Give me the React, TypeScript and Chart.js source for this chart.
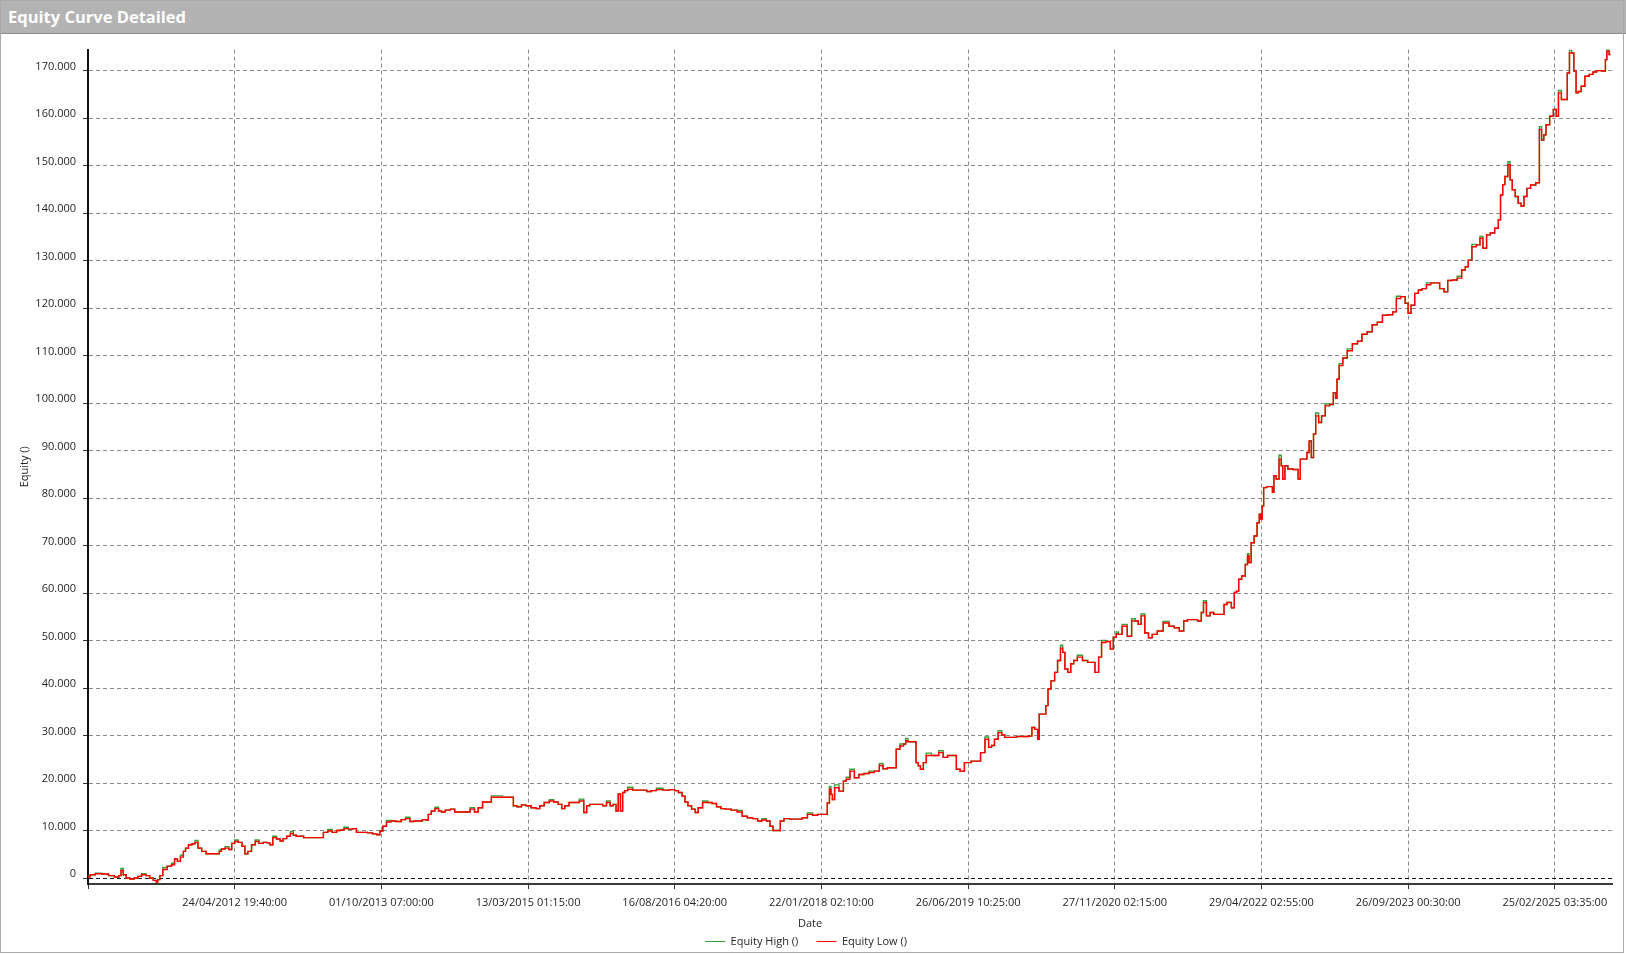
import { useEffect, useRef } from 'react';
import { Chart, registerables } from 'chart.js';

Chart.register(...registerables);

const chartTitle = 'Equity Curve Detailed';
const xAxisTitle = 'Date';
const yAxisTitle = 'Equity ()';
const seriesNames = ['Equity High ()', 'Equity Low ()'];
const seriesColors = ['#3a9d3a', '#ff0000'];

const xTickLabels = [
  '',
  '24/04/2012 19:40:00',
  '01/10/2013 07:00:00',
  '13/03/2015 01:15:00',
  '16/08/2016 04:20:00',
  '22/01/2018 02:10:00',
  '26/06/2019 10:25:00',
  '27/11/2020 02:15:00',
  '29/04/2022 02:55:00',
  '26/09/2023 00:30:00',
  '25/02/2025 03:35:00',
];
const xTickStep = 100;
const xMin = 0;
const xMax = 1039;
const yMin = -1263;
const yMax = 174420;
const yTickValues = [
  0, 10000, 20000, 30000, 40000, 50000, 60000, 70000, 80000, 90000,
  100000, 110000, 120000, 130000, 140000, 150000, 160000, 170000,
];
const VALUE_UNIT = 1000; // values below are in thousands

// bar number of each sampled point
const barIndex = [
  0, 3, 7, 12, 16, 20, 22, 23, 25, 27, 30, 33, 35, 38, 41, 43, 46, 47, 48, 50,
  52, 56, 58, 60, 62, 64, 66, 67, 70, 72, 74, 76, 79, 82, 85, 89, 90, 92, 95, 97,
  99, 101, 104, 106, 108, 110, 113, 115, 118, 121, 123, 125, 127, 130, 132, 134, 137, 139, 141, 143,
  146, 148, 155, 159, 162, 165, 168, 171, 173, 176, 179, 182, 184, 189, 192, 196, 198, 200, 202, 205,
  208, 212, 215, 218, 221, 223, 226, 230,
  231, 233, 235, 238, 240, 242, 245, 249, 251, 256, 259, 262, 265, 267, 271, 274, 276, 289, 291, 294,
  297, 300, 304, 307, 309, 313, 316, 319, 322, 324, 326, 330, 333, 337, 339, 341, 343, 347, 350, 352,
  355, 357, 359, 361, 362, 364, 365, 367, 369, 374, 379, 383, 385, 390, 394, 399, 401, 404, 406, 408,
  410, 413, 415, 417, 421, 424, 427, 430, 433, 436, 441, 444, 448, 451, 455, 458, 461, 464, 466, 468,
  471, 473, 476, 481, 485, 489, 492, 496, 499,
  500, 503, 505, 506, 507, 508, 510, 514, 516, 518, 521, 524, 527, 531, 534, 538, 541, 543, 547, 550,
  552, 555, 557, 558, 560, 564, 565, 567, 568, 571, 572, 578, 582, 584, 588, 591, 593, 596, 599, 601,
  603, 607, 610, 613, 615, 617, 619, 622, 624, 626, 631, 635, 640, 643, 644, 647, 648, 649, 652, 654,
  655, 658, 660, 662, 664, 665, 667, 669, 671, 673, 676, 680, 683, 685, 688, 690, 692, 696, 698, 700,
  702,
  703, 707, 710, 713, 715, 717, 719, 722, 724, 727, 731, 735, 739, 742, 746, 748, 751, 755, 758, 760,
  761, 764, 766, 769, 774, 775, 778, 781, 782, 784, 785, 788, 790, 791, 792, 794, 796, 798, 799, 800,
  801, 802, 805, 807, 808, 809, 811, 813, 814, 815, 817, 819, 824, 826, 827, 830, 832, 833, 835, 836,
  838, 840, 842, 845, 848, 850, 851, 852, 854,
  857, 860, 864, 867, 870, 874, 877, 881, 884, 888, 891, 893, 897, 899, 901, 903, 906, 908, 911, 914,
  917, 920, 923, 926, 928, 932, 935, 938, 940, 942, 945, 948, 950, 952, 955, 957, 961, 962, 964, 965,
  967, 969, 970, 972, 974, 976, 978, 980, 982, 985, 989, 990, 992, 993, 995, 998, 1000, 1002, 1003, 1006,
  1008, 1009, 1011, 1012, 1014, 1015, 1017, 1019, 1022, 1025, 1027, 1030, 1034, 1035, 1036, 1038,
];

// Equity Low (thousands)
const equityLow = [
  0.2, 0.7, 0.9, 0.85, 0.5, 0.2, 0.5, 1.6, 0.7, 0.0, -0.2, 0.0, 0.35, 0.7, 0.5, 0.0, -0.5, -0.85, -0.35, 0.5,
  1.8, 2.5, 2.8, 4.0, 3.5, 4.4, 5.6, 6.3, 7.0, 7.2, 7.5, 6.3, 5.6, 5.1, 5.1, 5.1, 5.6, 6.1, 6.3, 6.0,
  7.3, 7.7, 7.5, 6.7, 5.1, 5.6, 7.0, 7.7, 7.3, 7.5, 7.4, 7.0, 8.5, 8.2, 7.8, 8.3, 8.8, 9.4, 9.0, 8.8,
  8.8, 8.5, 8.5, 8.5, 9.6, 9.9, 9.6, 10.0, 10.1, 10.4, 10.3, 10.4, 9.6, 9.6, 9.5, 9.3, 9.1, 9.9, 10.9, 11.8,
  12.0, 11.9, 12.3, 12.5, 11.9, 12.0, 12.0, 12.3,
  12.2, 13.4, 14.1, 14.6, 14.1, 13.9, 14.3, 14.5, 13.9, 13.9, 13.9, 14.5, 13.9, 14.8, 16.0, 16.0, 17.0, 17.0, 15.2, 15.0,
  15.4, 15.2, 14.8, 14.6, 15.2, 15.9, 16.2, 16.0, 15.5, 14.6, 15.2, 15.9, 15.9, 16.2, 13.8, 15.2, 15.5, 15.5, 15.5, 15.2,
  15.9, 15.2, 15.5, 14.1, 17.7, 14.1, 18.0, 18.4, 18.7, 18.5, 18.5, 18.2, 18.4, 18.6, 18.5, 18.6, 18.4, 18.0, 17.2, 16.0,
  15.2, 14.5, 13.8, 14.8, 15.9, 15.9, 15.7, 15.0, 14.6, 14.5, 14.3, 13.9, 13.0, 12.7, 12.5, 12.0, 12.2, 12.0, 10.9, 10.0,
  10.0, 12.0, 12.5, 12.4, 12.4, 12.7, 13.4, 13.2, 13.4,
  13.4, 13.4, 15.8, 18.7, 17.6, 16.5, 19.0, 18.3, 20.4, 20.8, 22.5, 21.1, 21.8, 22.0, 22.2, 22.5, 23.7, 23.0, 23.2, 23.2,
  27.1, 27.8, 28.2, 28.9, 28.7, 28.7, 24.3, 23.6, 22.9, 24.3, 25.8, 25.8, 26.4, 25.4, 25.8, 25.8, 22.9, 22.5, 24.3, 24.3,
  24.6, 24.6, 26.4, 29.2, 27.5, 27.9, 29.2, 30.6, 30.1, 29.6, 29.6, 29.8, 29.8, 29.9, 31.7, 31.3, 29.2, 34.5, 34.5, 36.3,
  39.8, 41.5, 43.3, 45.8, 48.4, 47.5, 44.0, 43.3, 45.1, 45.8, 46.5, 45.8, 45.4, 45.4, 43.3, 46.5, 49.6, 49.8, 48.2, 50.7,
  51.4,
  51.3, 53.0, 50.9, 54.1, 54.1, 53.4, 55.2, 51.6, 50.6, 51.3, 52.0, 53.7, 53.0, 52.7, 52.0, 54.1, 54.4, 54.4, 54.1, 55.9,
  58.0, 55.2, 55.9, 55.5, 55.5, 57.6, 58.0, 56.9, 60.1, 60.4, 62.9, 63.6, 66.0, 67.8, 66.4, 70.6, 72.0, 74.8, 76.6, 75.6,
  78.3, 82.2, 82.4, 82.4, 81.2, 84.7, 84.0, 88.2, 86.8, 84.0, 86.8, 86.1, 86.0, 84.0, 88.2, 88.2, 89.6, 92.0, 88.5, 93.5,
  97.3, 95.9, 97.3, 99.4, 99.7, 102.2, 101.0, 105.0, 107.9,
  109.5, 111.0, 112.5, 113.0, 114.5, 115.0, 116.5, 117.0, 118.5, 118.6, 119.2, 122.0, 122.4, 121.0, 118.9, 120.6, 123.1, 123.8, 124.1, 124.9,
  125.3, 125.3, 124.1, 123.4, 125.8, 125.9, 126.3, 128.0, 128.7, 130.1, 132.9, 133.3, 134.7, 132.6, 135.4, 135.8, 136.8, 138.6, 143.8, 146.0,
  147.7, 150.2, 147.0, 144.9, 143.5, 142.1, 141.5, 143.5, 145.2, 145.9, 146.4, 157.6, 155.4, 156.5, 158.6, 160.4, 161.8, 160.4, 165.3, 163.9,
  163.9, 169.5, 173.7, 173.7, 169.9, 165.3, 165.6, 166.7, 168.8, 169.2, 169.7, 170.0, 169.9, 172.3, 174.1, 173.4,
];

// Equity High (thousands)
const equityHigh = [
  0.4, 0.7, 1.0, 0.85, 0.5, 0.2, 0.5, 2.0, 0.7, 0.0, -0.2, 0.0, 0.35, 0.9, 0.5, 0.0, -0.5, -0.85, -0.35, 0.5,
  2.2, 2.5, 3.1, 4.0, 3.5, 4.8, 5.6, 6.3, 7.0, 7.2, 7.9, 6.3, 5.6, 5.1, 5.1, 5.1, 5.9, 6.1, 6.6, 6.0,
  7.3, 8.0, 7.5, 6.7, 5.1, 5.6, 7.0, 8.0, 7.3, 7.5, 7.4, 7.0, 8.8, 8.2, 7.8, 8.3, 8.8, 9.8, 9.0, 8.8,
  8.8, 8.5, 8.5, 8.5, 9.6, 10.2, 9.6, 10.0, 10.1, 10.7, 10.3, 10.4, 9.6, 9.6, 9.5, 9.3, 9.1, 9.9, 10.9, 12.1,
  12.0, 11.9, 12.3, 12.8, 11.9, 12.0, 12.0, 12.3,
  12.2, 13.4, 14.1, 14.9, 14.1, 13.9, 14.3, 14.5, 13.9, 13.9, 13.9, 14.8, 13.9, 14.8, 16.0, 16.0, 17.3, 17.0, 15.2, 15.0,
  15.4, 15.2, 14.8, 14.6, 15.2, 15.9, 16.5, 16.0, 15.5, 14.6, 15.2, 15.9, 15.9, 16.6, 13.8, 15.2, 15.5, 15.5, 15.5, 15.2,
  16.2, 15.2, 15.5, 14.1, 17.7, 14.1, 18.0, 18.4, 19.1, 18.5, 18.5, 18.2, 18.4, 18.9, 18.5, 18.6, 18.4, 18.0, 17.2, 16.0,
  15.2, 14.5, 13.8, 14.8, 16.2, 15.9, 15.7, 15.0, 14.6, 14.5, 14.3, 14.2, 13.0, 12.7, 12.5, 12.0, 12.5, 12.0, 10.9, 10.0,
  10.0, 12.0, 12.5, 12.4, 12.4, 12.7, 13.7, 13.2, 13.4,
  13.4, 13.4, 15.8, 19.3, 17.6, 16.5, 19.6, 18.3, 20.4, 21.2, 22.9, 21.1, 21.8, 22.0, 22.5, 22.5, 24.1, 23.0, 23.2, 23.2,
  27.1, 28.2, 28.2, 29.4, 28.7, 28.7, 24.3, 23.6, 22.9, 24.3, 26.3, 25.8, 26.8, 25.4, 25.8, 25.8, 22.9, 22.5, 24.3, 24.3,
  24.6, 24.6, 26.4, 29.7, 27.5, 27.9, 29.2, 31.0, 30.1, 29.6, 29.6, 29.8, 29.8, 29.9, 31.7, 31.3, 29.2, 34.5, 34.5, 36.3,
  39.8, 41.5, 43.3, 45.8, 49.0, 47.5, 44.0, 43.3, 45.1, 45.8, 46.9, 45.8, 45.4, 45.4, 43.3, 46.5, 50.0, 49.8, 48.2, 50.7,
  51.8,
  51.3, 53.4, 50.9, 54.6, 54.1, 53.4, 55.6, 51.6, 50.6, 51.3, 52.0, 54.0, 53.0, 52.7, 52.0, 54.1, 54.4, 54.4, 54.1, 55.9,
  58.4, 55.2, 55.9, 55.5, 55.5, 57.6, 58.0, 56.9, 60.1, 60.4, 62.9, 63.6, 66.0, 68.3, 66.4, 70.6, 72.0, 74.8, 76.6, 75.6,
  78.3, 82.2, 82.4, 82.4, 81.2, 84.7, 84.0, 89.0, 86.8, 84.0, 86.8, 86.1, 86.0, 84.0, 88.2, 88.2, 89.6, 92.0, 88.5, 93.5,
  97.9, 95.9, 97.3, 99.8, 99.7, 102.2, 101.0, 105.0, 108.3,
  109.5, 111.4, 112.5, 113.0, 114.5, 115.0, 116.5, 117.0, 118.5, 118.6, 119.2, 122.5, 122.4, 121.0, 118.9, 120.6, 123.1, 123.8, 124.1, 125.3,
  125.3, 125.3, 124.1, 123.4, 125.8, 125.9, 126.7, 128.0, 128.7, 130.1, 133.4, 133.3, 135.1, 132.6, 135.4, 135.8, 136.8, 138.6, 143.8, 146.0,
  147.7, 150.8, 147.0, 144.9, 143.5, 142.1, 141.5, 143.5, 145.2, 145.9, 146.4, 158.2, 155.4, 156.5, 158.6, 160.4, 161.8, 160.4, 165.8, 163.9,
  163.9, 169.5, 174.3, 173.7, 169.9, 165.3, 165.6, 166.7, 168.8, 169.2, 169.7, 170.0, 169.9, 172.3, 174.4, 173.4,
];

const FONT = "'Open Sans', 'Noto Sans', 'DejaVu Sans', sans-serif";
const TEXT_COLOR = '#262626';
const GRID_COLOR = '#8c8c8c';

export default function App() {
  const canvasRef = useRef<HTMLCanvasElement | null>(null);

  useEffect(() => {
    const canvas = canvasRef.current;
    if (!canvas) return;
    const toPoints = (vals: number[]) =>
      vals.map((v, i) => ({ x: barIndex[i], y: v * VALUE_UNIT }));

    const chart = new Chart(canvas, {
      type: 'line',
      data: {
        datasets: [
          {
            label: seriesNames[0],
            data: toPoints(equityHigh),
            borderColor: seriesColors[0],
            backgroundColor: seriesColors[0],
            borderWidth: 1.4,
            pointRadius: 0,
            stepped: 'middle',
            fill: false,
            order: 1,
          },
          {
            label: seriesNames[1],
            data: toPoints(equityLow),
            borderColor: seriesColors[1],
            backgroundColor: seriesColors[1],
            borderWidth: 1.4,
            pointRadius: 0,
            stepped: 'middle',
            fill: false,
            order: 0,
          },
        ],
      },
      options: {
        animation: false,
        responsive: true,
        maintainAspectRatio: false,
        layout: { padding: { top: 10, right: 10, bottom: 0, left: 0 } },
        plugins: {
          tooltip: { enabled: false },
          title: { display: false },
          legend: {
            position: 'bottom',
            labels: {
              boxWidth: 20,
              boxHeight: 1,
              padding: 4,
              color: TEXT_COLOR,
              font: { family: FONT, size: 11 },
              generateLabels: () =>
                seriesNames.map((name, i) => ({
                  text: i === 0 ? name + '     ' : name,
                  fillStyle: seriesColors[i],
                  strokeStyle: seriesColors[i],
                  lineWidth: 0,
                  hidden: false,
                  datasetIndex: i,
                  fontColor: TEXT_COLOR,
                })),
            },
          },
        },
        scales: {
          x: {
            type: 'linear',
            min: xMin,
            max: xMax,
            afterFit: (s: any) => {
              s.height = 48;
            },
            afterBuildTicks: (s: any) => {
              s.ticks = xTickLabels.map((_, i) => ({ value: i * xTickStep }));
            },
            ticks: {
              autoSkip: false,
              maxRotation: 0,
              minRotation: 0,
              padding: 7,
              color: TEXT_COLOR,
              font: { family: FONT, size: 11 },
              callback: (v: any) => xTickLabels[Math.round(Number(v) / xTickStep)] ?? '',
            },
            grid: {
              color: GRID_COLOR,
              lineWidth: 1,
              tickLength: 5,
              tickColor: '#333',
              tickWidth: 1,
            },
            border: { display: true, color: '#3a3a3a', width: 2, dash: [4, 3] },
            title: {
              display: true,
              text: xAxisTitle + '                            ',
              color: TEXT_COLOR,
              font: { family: FONT, size: 11 },
              padding: { top: 0, bottom: 2 },
            },
          },
          y: {
            type: 'linear',
            min: yMin,
            max: yMax,
            afterFit: (s: any) => {
              s.width = 88;
            },
            afterBuildTicks: (s: any) => {
              s.ticks = yTickValues.map((v) => ({ value: v }));
            },
            ticks: {
              autoSkip: false,
              padding: 7,
              labelOffset: -4,
              color: TEXT_COLOR,
              font: { family: FONT, size: 11 },
              callback: (v: any) => {
                const n = Number(v);
                return n === 0 ? '0' : (n / 1000).toFixed(0) + '.000';
              },
            },
            grid: {
              color: (ctx: any) => (ctx.tick && ctx.tick.value === 0 ? '#111' : GRID_COLOR),
              lineWidth: 1,
              tickLength: 5,
              tickColor: '#333',
              tickWidth: 1,
            },
            border: { display: true, color: '#111', width: 2, dash: [4, 3] },
            title: {
              display: true,
              text: yAxisTitle,
              color: TEXT_COLOR,
              font: { family: FONT, size: 11 },
              padding: { top: 18, bottom: 0 },
            },
          },
        },
      },
    } as any);
    return () => chart.destroy();
  }, []);

  return (
    <div
      style={{
        position: 'fixed',
        left: 0,
        top: 0,
        width: 1626,
        height: 954,
        overflow: 'hidden',
        background: '#ffffff',
      }}
    >
      <div
        style={{
          position: 'absolute',
          left: 0,
          top: 0,
          width: 1626,
          height: 34,
          background: '#b3b3b3',
          borderBottom: '1px solid #8a8a8a',
          boxSizing: 'border-box',
          color: '#ffffff',
          fontFamily: FONT,
          fontWeight: 700,
          fontSize: 16.5,
          lineHeight: '34px',
          paddingLeft: 8,
        }}
      >
        {chartTitle}
      </div>
      <div style={{ position: 'absolute', left: 0, top: 36, width: 1622, height: 921 }}>
        <canvas ref={canvasRef} />
      </div>
      <div
        style={{
          position: 'absolute',
          left: 0,
          top: 0,
          width: 1624,
          height: 953,
          border: '1px solid #a9a9a9',
          boxSizing: 'border-box',
          pointerEvents: 'none',
        }}
      />
    </div>
  );
}
